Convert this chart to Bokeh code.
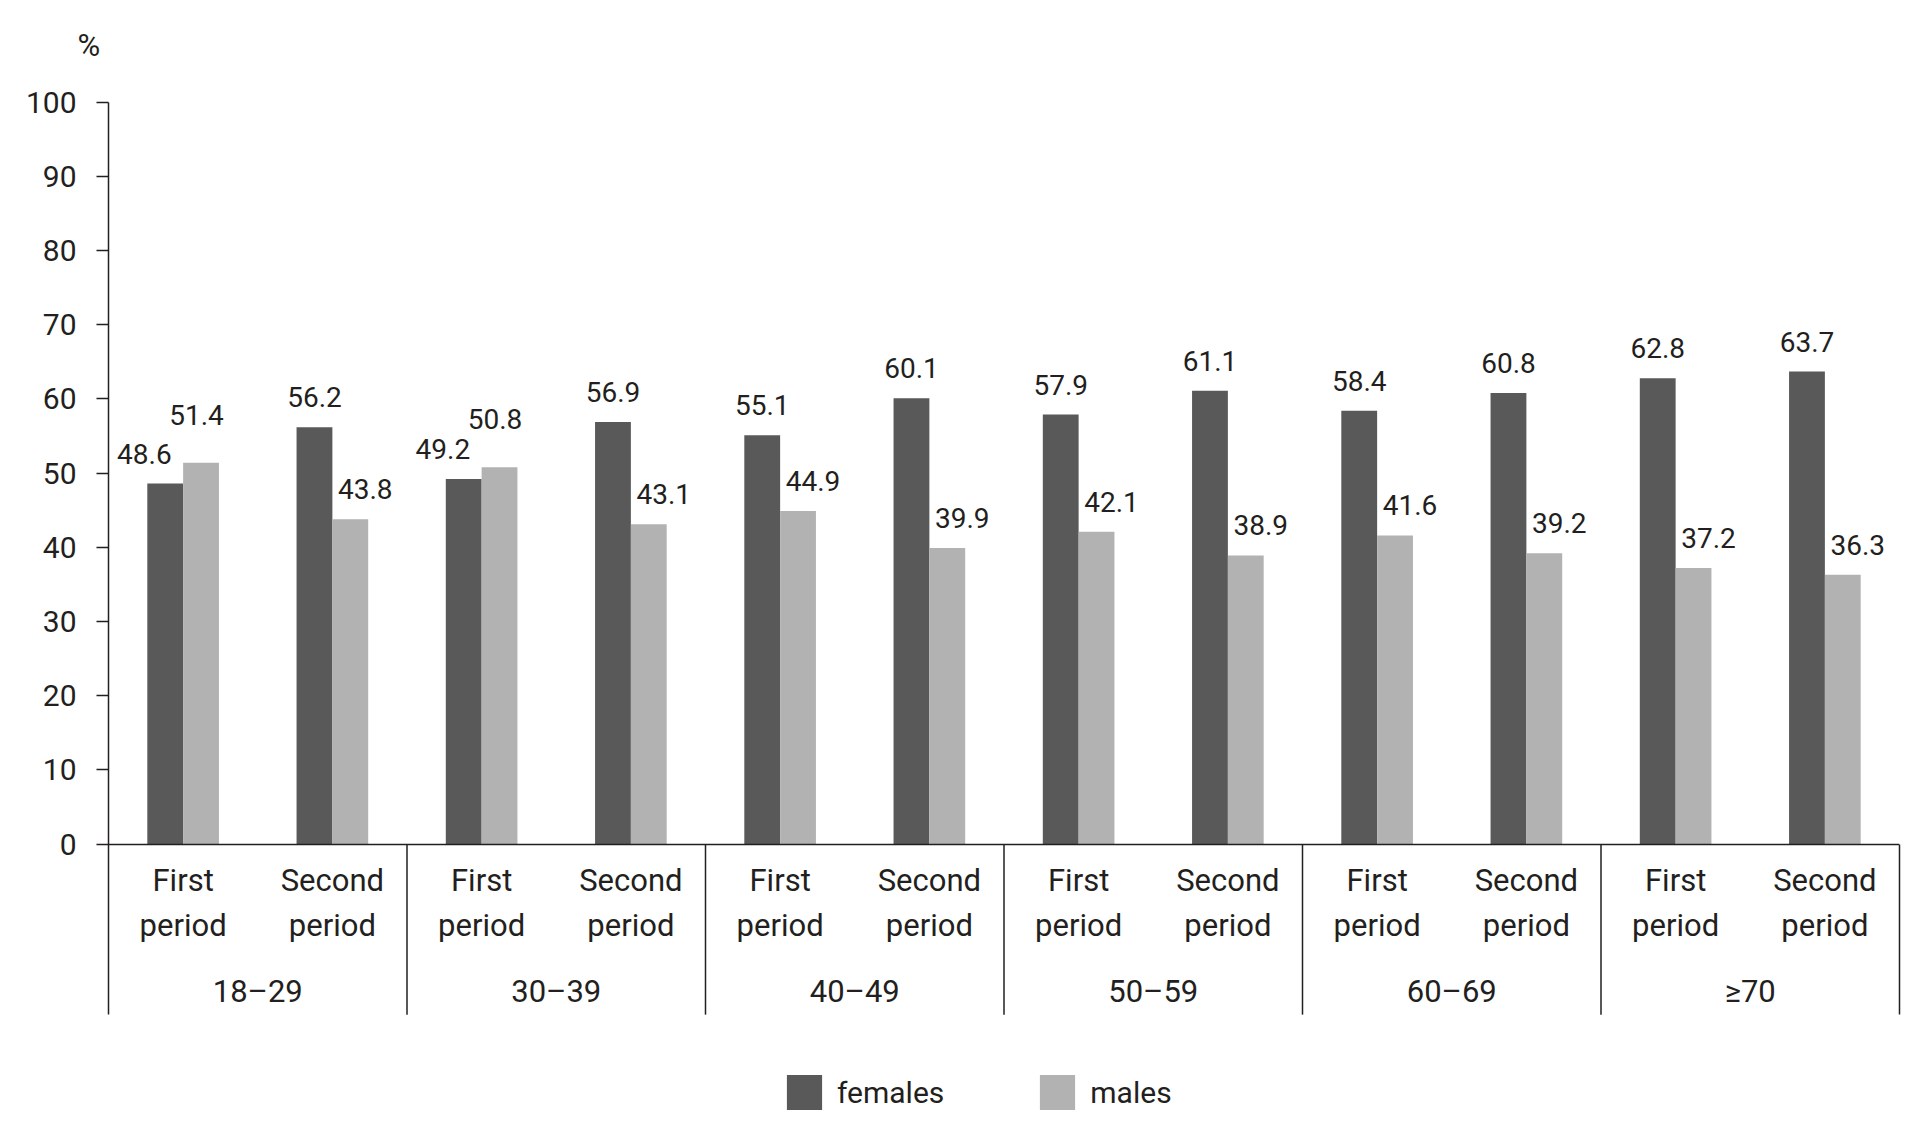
from bokeh.plotting import figure
from bokeh.models import (FactorRange, Range1d, ColumnDataSource, Legend, LegendItem,
                          LinearAxis, FixedTicker)
from bokeh.transform import dodge
from bokeh.core.properties import value
from bokeh.embed import file_html
from bokeh.resources import INLINE

# ---------------- data ----------------
age_groups = ["18\u201329", "30\u201339", "40\u201349", "50\u201359", "60\u201369", "\u226570"]
periods = ["First\nperiod", "Second\nperiod"]
females = [48.6, 56.2, 49.2, 56.9, 55.1, 60.1, 57.9, 61.1, 58.4, 60.8, 62.8, 63.7]
males = [51.4, 43.8, 50.8, 43.1, 44.9, 39.9, 42.1, 38.9, 41.6, 39.2, 37.2, 36.3]
y_ticks = [0, 10, 20, 30, 40, 50, 60, 70, 80, 90, 100]
series_names = ["females", "males"]
unit_label = "%"

# ---------------- style ----------------
FONT = "Roboto"
INK = "#231f20"
DARK = "#595959"
LIGHT = "#b2b2b2"
Y_LOW = -37
Y_TOP = 104.55
SEP_LOW = -23
SPACER = " "   # invisible middle level, used only as vertical spacing before group labels

factors = [(g, SPACER, per) for g in age_groups for per in periods]
src = ColumnDataSource(dict(x=factors, f=females, m=males))

x_range = FactorRange(*factors, group_padding=0, subgroup_padding=0,
                      factor_padding=0, range_padding=0)
p = figure(width=1920, height=1120, x_range=x_range, y_range=Range1d(Y_LOW, Y_TOP),
           output_backend="svg", toolbar_location=None,
           min_border_left=108, min_border_right=21, min_border_top=68, min_border_bottom=2)
p.outline_line_color = None
p.grid.visible = False
p.background_fill_color = "white"

# "%" unit label above the y axis
p.title.text = unit_label
p.title.text_font = FONT
p.title.text_font_size = "31px"
p.title.text_font_style = "normal"
p.title.text_color = INK
p.title.align = "left"
p.title.offset = -31
p.title.standoff = 10

# y axis
ya = p.yaxis[0]
ya.ticker = FixedTicker(ticks=y_ticks)
ya.bounds = (SEP_LOW, 100)
ya.major_tick_out = 12
ya.major_tick_in = 0
ya.minor_tick_line_color = None
ya.major_label_standoff = 20
ya.axis_line_color = INK
ya.axis_line_width = 1.5
ya.major_tick_line_color = INK
ya.major_tick_line_width = 1.5
ya.major_label_text_font = FONT
ya.major_label_text_font_size = "30px"
ya.major_label_text_color = INK

# x axis at y = 0
xa = p.xaxis[0]
xa.fixed_location = 0
xa.major_tick_line_color = None
xa.major_tick_out = 7
xa.major_tick_in = 0
xa.axis_line_color = INK
xa.axis_line_width = 1.5
xa.major_label_text_font = FONT
xa.major_label_text_font_size = "31px"
xa.major_label_text_color = INK
xa.major_label_text_line_height = 1.21
xa.major_label_standoff = 11
xa.subgroup_text_font = FONT
xa.subgroup_text_font_size = "1px"
xa.subgroup_text_color = INK
xa.group_text_font = FONT
xa.group_text_font_size = "31px"
xa.group_text_font_style = "normal"
xa.group_text_color = INK
xa.separator_line_color = None

# right edge line below the axis
ra = LinearAxis(bounds=(SEP_LOW, 0), ticker=FixedTicker(ticks=[]),
                axis_line_color=INK, axis_line_width=1.5,
                major_tick_line_color=None, minor_tick_line_color=None,
                major_label_text_font_size="0px", major_label_standoff=0)
p.add_layout(ra, "right")

# group separators
sep_x = [(g, SPACER, periods[0], -0.5) for g in age_groups[1:]]
p.segment(x0=sep_x, y0=[0] * len(sep_x), x1=sep_x, y1=[SEP_LOW] * len(sep_x),
          line_color=INK, line_width=1.5)

# bars
r_f = p.vbar(x=dodge("x", -0.12, range=x_range), top="f", width=0.24, source=src,
             fill_color=DARK, line_color=None)
r_m = p.vbar(x=dodge("x", 0.12, range=x_range), top="m", width=0.24, source=src,
             fill_color=LIGHT, line_color=None)

# value labels
lx, ly, lt, ldy = [], [], [], []
for fac, fv, mv in zip(factors, females, males):
    if mv > fv:
        fo, mo, mdy = -0.26, 0.09, -48
    else:
        fo, mo, mdy = -0.12, 0.22, -30
    lx += [fac + (fo,), fac + (mo,)]
    ly += [fv, mv]
    lt += [f"{fv:.1f}", f"{mv:.1f}"]
    ldy += [-30, mdy]
lsrc = ColumnDataSource(dict(x=lx, y=ly, t=lt, dy=ldy))
p.text(x="x", y="y", text="t", y_offset="dy", source=lsrc,
       text_font=value(FONT), text_font_size="28px", text_align="center",
       text_baseline="alphabetic", text_color=INK)

# legend
legend = Legend(items=[LegendItem(label=series_names[0], renderers=[r_f]),
                       LegendItem(label=series_names[1], renderers=[r_m])],
                orientation="horizontal", location=(674, 4),
                glyph_width=44, glyph_height=44, label_standoff=11, spacing=91,
                padding=0, margin=0, border_line_color=None, background_fill_alpha=0,
                label_text_font=FONT, label_text_font_size="30px", label_text_color=INK)
p.add_layout(legend)

open("out.html", "w").write(file_html(p, INLINE))
